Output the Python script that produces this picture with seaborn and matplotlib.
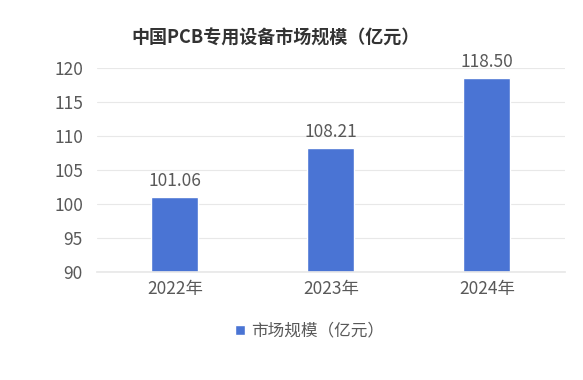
import matplotlib
matplotlib.use('Agg')
import matplotlib.pyplot as plt
import pandas as pd
import seaborn as sns

years = ['2022年', '2023年', '2024年']
values = [101.06, 108.21, 118.50]
series_name = '市场规模（亿元）'

sns.set_theme(style='white')
plt.rcParams['font.family'] = ['Noto Sans CJK SC', 'DejaVu Sans']

df = pd.DataFrame({'年份': years, series_name: values})

fig = plt.figure(figsize=(5.83, 3.8), dpi=100)
ax = fig.add_axes([0.166, 0.284, 0.803, 0.537])

sns.barplot(data=df, x='年份', y=series_name, color='#4a74d4', width=0.3,
            saturation=1, ax=ax, label=series_name)

ax.set_ylim(90, 120)
ax.set_yticks(range(90, 121, 5))
ax.set_xlabel('')
ax.set_ylabel('')
ax.yaxis.grid(True, color='#e8e8e8', linewidth=0.8)
ax.set_axisbelow(True)
for s in ['top', 'right', 'left']:
    ax.spines[s].set_visible(False)
ax.spines['bottom'].set_color('#e8e8e8')
ax.tick_params(axis='y', length=0, labelsize=12.5, colors='#595959', pad=10)
ax.tick_params(axis='x', length=0, labelsize=12.5, colors='#595959', pad=6)

for i, v in enumerate(values):
    ax.text(i, v + 1.0, f'{v:.2f}', ha='center', va='bottom', fontsize=12.5,
            color='#595959', clip_on=False)

fig.text(0.472, 0.9, '中国PCB专用设备市场规模（亿元）', ha='center', va='center',
         fontsize=13, fontweight='bold', color='#333333')

ax.legend(loc='center', bbox_to_anchor=(0.455, -0.29), frameon=False,
          fontsize=12, handlelength=0.6, handleheight=0.6, handletextpad=0.4,
          labelcolor='#595959')

fig.savefig('out.png', dpi=100)
